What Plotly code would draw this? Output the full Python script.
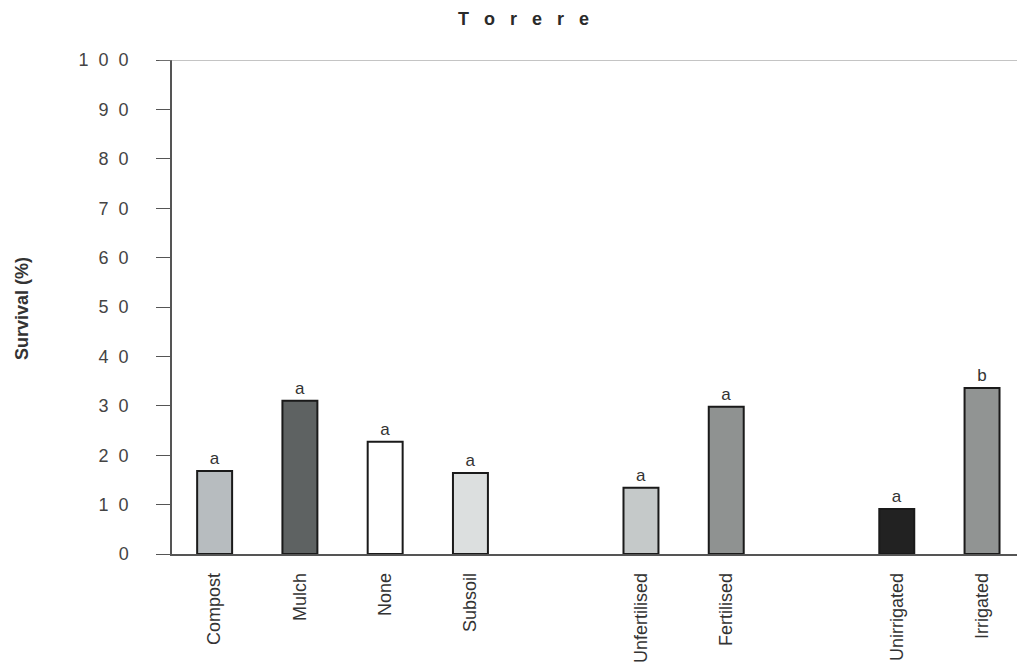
import plotly.graph_objects as go

# Treatment groups, with empty slots separating the three experiments
categories = ["Compost", "Mulch", "None", "Subsoil", "",
              "Unfertilised", "Fertilised", "", "Unirrigated", "Irrigated"]
survival = [16.8, 31.0, 22.7, 16.4, None, 13.4, 29.8, None, 9.1, 33.6]
letters = ["a", "a", "a", "a", "", "a", "a", "", "a", "b"]
bar_colors = ["#b7bcbf", "#5e6262", "#ffffff", "#dcdfdf", "#ffffff",
              "#c5c9c9", "#8f9291", "#ffffff", "#222222", "#919493"]

y_ticks = [0, 10, 20, 30, 40, 50, 60, 70, 80, 90, 100]
SP = "\u00a0\u00a0"
y_tick_text = [SP.join(str(v)) for v in y_ticks]
title_text = "\u00a0\u00a0\u00a0".join("Torere")

x_pos = list(range(len(categories)))
FONT = "Liberation Sans, Arial, Helvetica, sans-serif"

fig = go.Figure()
fig.add_trace(go.Bar(
    x=x_pos,
    y=survival,
    width=0.41,
    marker=dict(color=bar_colors, line=dict(color="#1a1a1a", width=2)),
    text=letters,
    textposition="outside",
    textfont=dict(family=FONT, size=17, color="#333333"),
    cliponaxis=False,
    showlegend=False,
))

fig.update_layout(
    width=1017, height=671,
    margin=dict(l=172, r=0, t=60, b=117),
    paper_bgcolor="white",
    plot_bgcolor="white",
    font=dict(family=FONT, color="#333333"),
    title=dict(text="<b>" + title_text + "</b>", x=523.5 / 1017, xanchor="center",
               y=1 - 19 / 671, yanchor="middle",
               font=dict(size=18, color="#2a2a2a")),
)

fig.update_xaxes(
    range=[-0.5, 9.41],
    tickmode="array",
    tickvals=x_pos,
    ticktext=categories,
    tickangle=-90,
    tickfont=dict(family=FONT, size=18, color="#333333"),
    ticks="",
    ticklabelstandoff=10,
    showgrid=False,
    showline=True,
    linecolor="#555555",
    linewidth=1.5,
    zeroline=False,
)

fig.update_yaxes(
    range=[0, 100],
    tickmode="array",
    tickvals=y_ticks,
    ticktext=y_tick_text,
    tickfont=dict(family=FONT, size=18, color="#444444"),
    ticks="outside",
    ticklen=14,
    tickcolor="#555555",
    ticklabelstandoff=24,
    showline=True,
    linecolor="#555555",
    linewidth=1.5,
    showgrid=False,
    zeroline=False,
)

# axis title drawn as a free annotation so it can sit near the left edge
fig.add_annotation(text="<b>Survival (%)</b>", xref="paper", yref="paper",
                   x=-150 / 845, y=(554 - 309) / 494, xanchor="center", yanchor="middle",
                   textangle=-90, showarrow=False,
                   font=dict(family=FONT, size=18, color="#333333"))

# top reference line at 100 %
fig.add_shape(type="line", xref="paper", yref="y", x0=-0.015, x1=1, y0=100, y1=100,
              line=dict(color="#8a8a8a", width=1.2))

fig.write_html("out.html")
